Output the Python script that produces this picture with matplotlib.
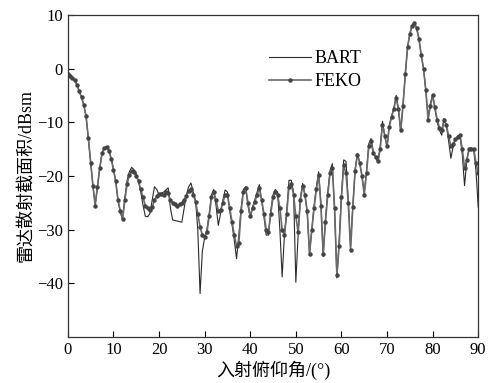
import matplotlib
matplotlib.use("Agg")
import matplotlib.pyplot as plt
import numpy as np

plt.rcParams['font.family'] = ['Liberation Serif', 'Noto Sans CJK SC']
plt.rcParams['axes.unicode_minus'] = True

# incidence angle grid (deg)
angles = np.arange(0, 90.5, 0.5)

feko = [
    -1.0, -1.3, -1.7, -2.2, -3.0, -4.2, -5.3, -6.8, -8.9, -13.0,
    -17.5, -21.8, -25.5, -22.0, -18.5, -15.8, -14.8, -14.6, -15.3, -16.8,
    -18.8, -21.0, -24.5, -26.5, -28.0, -24.5, -21.5, -19.8, -19.0, -19.3,
    -20.0, -21.0, -22.5, -24.0, -25.5, -26.0, -26.3, -25.8, -24.5, -23.8,
    -23.4, -23.3, -23.5, -23.0, -23.2, -24.5, -25.0, -25.3, -25.5, -25.3,
    -25.0, -24.5, -23.8, -22.8, -22.5, -23.5, -24.8, -27.0, -29.5, -31.0,
    -31.3, -30.5, -27.5, -24.0, -23.0, -24.5, -26.5, -26.3, -25.0, -23.5,
    -23.5, -26.0, -28.5, -31.0, -33.0, -32.5, -26.5, -23.0, -22.3, -25.0,
    -27.5, -26.0, -24.8, -23.5, -22.3, -24.5, -27.0, -30.0, -30.5, -27.0,
    -24.0, -23.0, -23.5, -26.0, -30.0, -31.0, -27.0, -22.0, -21.5, -23.5,
    -27.5, -30.5, -24.5, -21.8, -23.5, -26.5, -34.5, -30.0, -26.0, -22.5,
    -19.8, -25.5, -34.5, -28.5, -23.5, -19.5, -18.5, -26.0, -38.5, -33.0,
    -24.0, -18.0, -19.5, -25.0, -33.8, -25.8, -19.0, -16.0, -17.5, -20.0,
    -23.5, -19.5, -14.5, -13.5, -15.8, -16.5, -17.3, -15.0, -10.5, -12.5,
    -14.5, -10.8, -9.0, -7.5, -5.5, -7.5, -11.5, -7.0, -1.0, 4.0,
    6.5, 8.0, 8.5, 7.5, 5.5, 2.5, 0.0, -4.0, -9.5, -7.0,
    -5.0, -7.2, -9.5, -11.0, -11.5, -9.5, -10.5, -12.5, -14.5, -14.0,
    -13.2, -12.7, -12.4, -15.0, -18.5, -17.0, -15.0, -14.9, -15.0, -17.5,
    -19.5,
]

bart = [
    -1.0, -1.3, -1.7, -2.2, -3.0, -4.2, -5.3, -6.8, -8.9, -13.0,
    -17.5, -21.8, -25.3, -22.0, -18.5, -15.8, -14.8, -14.5, -15.2, -16.7,
    -18.6, -21.0, -24.5, -26.8, -28.0, -24.0, -20.8, -19.2, -18.4, -18.8,
    -19.6, -21.0, -23.0, -25.5, -27.5, -27.6, -27.0, -24.5, -22.0, -22.5,
    -23.5, -23.2, -23.0, -22.6, -22.2, -26.0, -28.2, -28.3, -28.4, -28.5,
    -28.6, -26.0, -23.5, -22.0, -21.3, -23.0, -24.5, -30.0, -41.9, -34.0,
    -31.5, -30.0, -27.0, -23.5, -22.5, -25.5, -29.2, -27.0, -24.5, -22.6,
    -23.0, -26.5, -29.0, -32.0, -35.4, -31.0, -26.0, -22.5, -22.0, -25.5,
    -27.8, -25.8, -24.5, -23.0, -21.6, -24.5, -27.5, -31.0, -31.0, -26.5,
    -23.5, -22.5, -23.0, -30.0, -38.8, -31.0, -26.5, -20.8, -20.8, -23.0,
    -39.8, -31.0, -24.0, -21.4, -23.5, -27.0, -34.5, -30.0, -25.5, -22.0,
    -19.2, -25.0, -35.0, -28.0, -23.0, -19.0, -17.7, -26.5, -39.0, -32.0,
    -23.5, -17.0, -17.3, -24.5, -33.0, -25.5, -18.8, -15.8, -17.5, -20.0,
    -23.0, -19.0, -14.0, -13.0, -15.5, -16.5, -17.4, -14.5, -9.8, -12.5,
    -14.6, -10.5, -8.8, -7.3, -5.0, -7.5, -11.8, -6.5, -1.0, 4.0,
    6.5, 8.0, 8.5, 7.5, 5.5, 2.5, 0.0, -4.0, -9.0, -6.5,
    -4.8, -7.5, -10.0, -11.5, -12.4, -9.3, -10.5, -13.5, -16.7, -14.5,
    -13.2, -12.5, -12.4, -16.0, -21.8, -17.0, -14.8, -14.8, -15.0, -19.0,
    -25.8,
]

x_ticks = [0, 10, 20, 30, 40, 50, 60, 70, 80, 90]
y_ticks = [-40, -30, -20, -10, 0, 10]

fig = plt.figure(figsize=(4.88, 3.83), dpi=100)
ax = fig.add_axes([0.139, 0.120, 0.841, 0.841])

ax.plot(angles, bart, color='#2a2a2a', lw=0.8, label='BART')
ax.plot(angles, feko, color='#6a6a6a', lw=1.2, marker='o', ms=2.2,
        mfc='#444444', mec='#444444', label='FEKO')

ax.set_xlim(0, 90)
ax.set_ylim(-50, 10)
ax.set_xticks(x_ticks)
ax.set_yticks(y_ticks)
ax.tick_params(direction='in', length=4, width=0.8, labelsize=12,
               top=False, right=False)
for s in ax.spines.values():
    s.set_linewidth(0.9)
    s.set_color('#333333')

ax.set_xlabel('入射俯仰角/(°)', fontsize=13, labelpad=2)
ax.set_ylabel('雷达散射截面积/dBsm', fontsize=13, labelpad=2)

ax.legend(loc='upper left', bbox_to_anchor=(0.46, 0.93), frameon=False,
          fontsize=13, handlelength=2.3, handletextpad=0.2,
          labelspacing=0.35, borderpad=0.2)

fig.savefig('out.png', dpi=100)
